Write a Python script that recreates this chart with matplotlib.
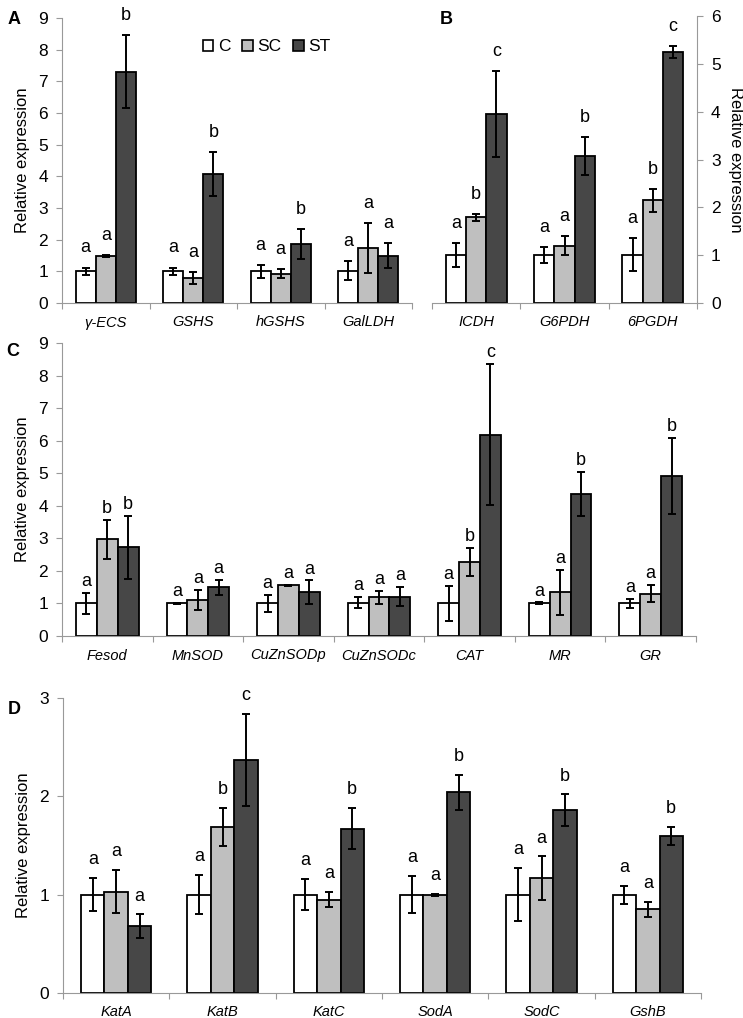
import numpy as np
import matplotlib
matplotlib.use("Agg")
import matplotlib.pyplot as plt
from matplotlib.patches import Patch

plt.rcParams['font.family'] = ['Liberation Sans', 'DejaVu Sans']

groups = ["C", "SC", "ST"]

# panel A
genes_a = ["γ-ECS", "GSHS", "hGSHS", "GalLDH"]
mean_a = [[1.0, 1.0, 1.0, 1.02],
          [1.49, 0.80, 0.93, 1.73],
          [7.30, 4.07, 1.86, 1.49]]
err_a = [[0.12, 0.12, 0.20, 0.30],
         [0.03, 0.19, 0.13, 0.79],
         [1.15, 0.70, 0.48, 0.39]]
let_a = [["a", "a", "a", "a"], ["a", "a", "a", "a"], ["b", "b", "b", "a"]]

# panel B
genes_b = ["ICDH", "G6PDH", "6PGDH"]
mean_b = [[1.01, 1.0, 1.01],
          [1.79, 1.20, 2.15],
          [3.95, 3.07, 5.25]]
err_b = [[0.25, 0.17, 0.35],
         [0.07, 0.20, 0.24],
         [0.89, 0.40, 0.12]]
let_b = [["a", "a", "a"], ["b", "a", "b"], ["c", "b", "c"]]

# panel C
genes_c = ["Fesod", "MnSOD", "CuZnSODp", "CuZnSODc", "CAT", "MR", "GR"]
mean_c = [[1.0, 1.0, 1.0, 1.02, 1.0, 1.0, 1.0],
          [2.97, 1.11, 1.56, 1.19, 2.28, 1.34, 1.30],
          [2.72, 1.50, 1.35, 1.21, 6.18, 4.36, 4.92]]
err_c = [[0.32, 0.02, 0.27, 0.17, 0.53, 0.03, 0.15],
         [0.60, 0.30, 0.02, 0.20, 0.43, 0.70, 0.27],
         [0.96, 0.23, 0.36, 0.30, 2.17, 0.68, 1.17]]
let_c = [["a", "a", "a", "a", "a", "a", "a"],
         ["b", "a", "a", "a", "b", "a", "a"],
         ["b", "a", "a", "a", "c", "b", "b"]]

# panel D
genes_d = ["KatA", "KatB", "KatC", "SodA", "SodC", "GshB"]
mean_d = [[1.0, 1.0, 1.0, 1.0, 1.0, 1.0],
          [1.03, 1.69, 0.95, 1.0, 1.17, 0.85],
          [0.68, 2.37, 1.67, 2.04, 1.86, 1.60]]
err_d = [[0.17, 0.20, 0.16, 0.19, 0.27, 0.09],
         [0.22, 0.19, 0.075, 0.01, 0.22, 0.08],
         [0.12, 0.47, 0.21, 0.18, 0.16, 0.09]]
let_d = [["a", "a", "a", "a", "a", "a"],
         ["a", "b", "a", "a", "a", "a"],
         ["a", "c", "b", "b", "b", "b"]]

colors = ["white", "#bfbfbf", "#474747"]
W, H = 743, 1018


def make_axes(fig, x0, x1, ytop, ybot):
    return fig.add_axes([x0 / W, 1 - ybot / H, (x1 - x0) / W, (ybot - ytop) / H])


def draw_panel(ax, genes, means, errs, letters, ymax, gap, width=0.23, right=False):
    n = len(genes)
    x = np.arange(n)
    for k in range(3):
        pos = x + (k - 1) * width
        ax.bar(pos, means[k], width, color=colors[k], edgecolor="black", linewidth=1.3, zorder=2)
        ax.errorbar(pos, means[k], yerr=errs[k], fmt="none", ecolor="black",
                    elinewidth=1.4, capsize=3.2, capthick=1.4, zorder=3)
        for p, m, e, t in zip(pos, means[k], errs[k], letters[k]):
            ax.annotate(t, (p, m + e), xytext=(0, gap), textcoords="offset points",
                        ha="center", va="bottom", fontsize=13)
    ax.set_xlim(-0.5, n - 0.5)
    ax.set_ylim(0, ymax)
    ax.set_yticks(range(0, ymax + 1))
    ax.set_xticks(x)
    ax.set_xticklabels(genes, fontstyle="italic", fontsize=10.5)
    ax.set_xticks(np.arange(n + 1) - 0.5, minor=True)
    ax.tick_params(axis="x", which="major", length=0, pad=9)
    ax.tick_params(axis="x", which="minor", length=4, color="#999999", width=0.8)
    ax.tick_params(axis="y", labelsize=12.5, length=4, color="#999999", width=0.8, pad=6)
    for s in ["top", "right", "left", "bottom"]:
        ax.spines[s].set_visible(False)
    ax.spines["bottom"].set_visible(True)
    ax.spines["bottom"].set_color("#999999")
    side = "right" if right else "left"
    ax.spines[side].set_visible(True)
    ax.spines[side].set_color("#999999")
    if right:
        ax.yaxis.tick_right()
        ax.yaxis.set_label_position("right")
        ax.set_ylabel("Relative expression", fontsize=12, rotation=270, labelpad=16)
    else:
        ax.set_ylabel("Relative expression", fontsize=12, labelpad=6)


fig = plt.figure(figsize=(W / 100, H / 100), dpi=100)

ax_a = make_axes(fig, 62, 412, 18, 303)
draw_panel(ax_a, genes_a, mean_a, err_a, let_a, 9, 8)
handles = [Patch(facecolor=c, edgecolor="black", linewidth=1.2) for c in colors]
ax_a.legend(handles, groups, loc="upper center", bbox_to_anchor=(0.585, 0.98), ncol=3,
            frameon=False, fontsize=12.5, handlelength=0.6, handleheight=0.6,
            handletextpad=0.25, columnspacing=0.7)

ax_b = make_axes(fig, 432, 697, 16, 303)
draw_panel(ax_b, genes_b, mean_b, err_b, let_b, 6, 8, right=True)

ax_c = make_axes(fig, 62, 696, 343, 636)
draw_panel(ax_c, genes_c, mean_c, err_c, let_c, 9, 2)

ax_d = make_axes(fig, 63, 701, 698, 993)
draw_panel(ax_d, genes_d, mean_d, err_d, let_d, 3, 7, width=0.22)

for lab, px, py in [("A", 8, 20), ("B", 440, 20), ("C", 6, 352), ("D", 8, 710)]:
    fig.text(px / W, 1 - py / H, lab, fontsize=13, fontweight="bold", va="center")

fig.savefig("out.png", dpi=100)
